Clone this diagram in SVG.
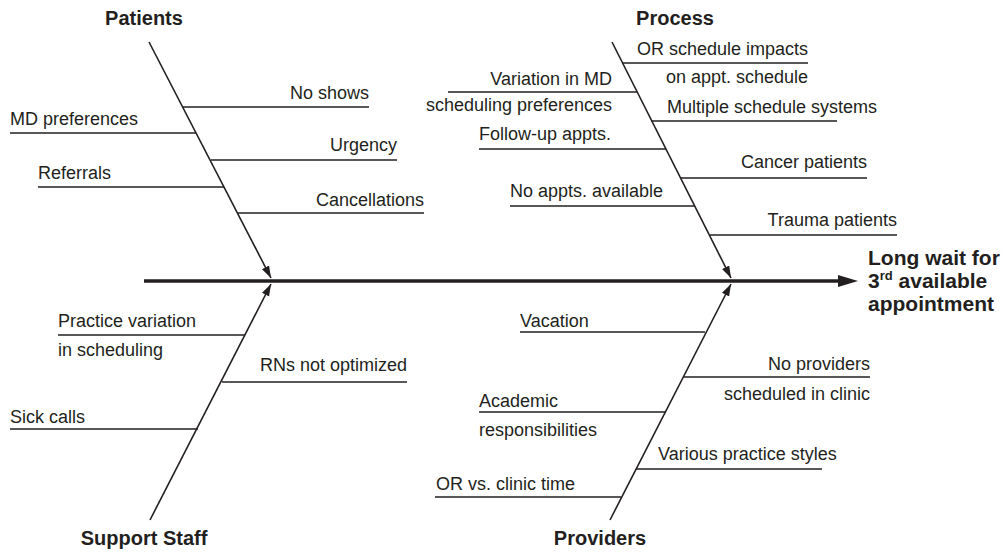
<svg xmlns="http://www.w3.org/2000/svg" width="1004" height="552" viewBox="0 0 1004 552">
<style>
  text { font-family: "Liberation Sans", Arial, sans-serif; fill: #231f20; }
  .c { font-size: 18px; }
  .h { font-size: 20px; font-weight: bold; }
  .e { font-size: 21px; font-weight: bold; }
  .r { text-anchor: end; }
  .m { text-anchor: middle; }
  .b { stroke: #231f20; stroke-width: 1.3; fill: none; }
  .bone { stroke: #231f20; stroke-width: 1.6; fill: none; marker-end: url(#ah); }
  .spine { stroke: #231f20; stroke-width: 3.6; fill: none; marker-end: url(#sh); }
</style>
<defs>
  <marker id="ah" markerUnits="userSpaceOnUse" markerWidth="13" markerHeight="9" refX="12" refY="4" orient="auto">
    <path d="M0,0 L12,4 L0,8 z" fill="#231f20"/>
  </marker>
  <marker id="sh" markerUnits="userSpaceOnUse" markerWidth="22" markerHeight="13" refX="2" refY="6" orient="auto">
    <path d="M0,0 L20,6 L0,12 z" fill="#231f20"/>
  </marker>
</defs>
<rect width="1004" height="552" fill="#ffffff"/>

<g id="connectors">
  <line class="spine" x1="144" y1="281" x2="840" y2="281"/>
  <line class="bone" x1="149" y1="42" x2="271" y2="278"/>
  <line class="bone" x1="612" y1="42" x2="731" y2="278"/>
  <line class="bone" x1="150" y1="520" x2="271" y2="284"/>
  <line class="bone" x1="610" y1="520" x2="731" y2="284"/>
</g>

<g id="effect">
  <text class="e" x="868" y="265">Long wait for</text>
  <text class="e" x="868" y="288">3<tspan font-size="13" dy="-8">rd</tspan><tspan dy="8"> available</tspan></text>
  <text class="e" x="868" y="311">appointment</text>
</g>

<g id="patients">
  <text class="h m" x="144" y="25">Patients</text>
  <g id="no-shows"><line class="b" x1="183" y1="107" x2="369" y2="107"/><text class="c r" x="369" y="99">No shows</text></g>
  <g id="md-preferences"><line class="b" x1="10" y1="133" x2="196" y2="133"/><text class="c" x="10" y="125">MD preferences</text></g>
  <g id="urgency"><line class="b" x1="211" y1="160" x2="397" y2="160"/><text class="c r" x="397" y="151">Urgency</text></g>
  <g id="referrals"><line class="b" x1="38" y1="187" x2="224" y2="187"/><text class="c" x="38" y="179">Referrals</text></g>
  <g id="cancellations"><line class="b" x1="238" y1="213" x2="424" y2="213"/><text class="c r" x="424" y="206">Cancellations</text></g>
</g>

<g id="process">
  <text class="h m" x="675" y="25">Process</text>
  <g id="or-schedule"><line class="b" x1="622" y1="63" x2="808" y2="63"/><text class="c r" x="808" y="55">OR schedule impacts</text><text class="c r" x="808" y="83">on appt. schedule</text></g>
  <g id="variation-md"><line class="b" x1="448" y1="92" x2="637" y2="92"/><text class="c r" x="612" y="85">Variation in MD</text><text class="c r" x="612" y="111">scheduling preferences</text></g>
  <g id="multiple-systems"><line class="b" x1="651" y1="121" x2="837" y2="121"/><text class="c r" x="877" y="113">Multiple schedule systems</text></g>
  <g id="follow-up"><line class="b" x1="479" y1="149" x2="666" y2="149"/><text class="c" x="479" y="140">Follow-up appts.</text></g>
  <g id="cancer"><line class="b" x1="681" y1="178" x2="867" y2="178"/><text class="c r" x="867" y="168">Cancer patients</text></g>
  <g id="no-appts"><line class="b" x1="510" y1="206" x2="695" y2="206"/><text class="c" x="510" y="197">No appts. available</text></g>
  <g id="trauma"><line class="b" x1="710" y1="235" x2="897" y2="235"/><text class="c r" x="897" y="226">Trauma patients</text></g>
</g>

<g id="support-staff">
  <text class="h m" x="144" y="545">Support Staff</text>
  <g id="practice-variation"><line class="b" x1="58" y1="335" x2="245" y2="335"/><text class="c" x="58" y="327">Practice variation</text><text class="c" x="58" y="356">in scheduling</text></g>
  <g id="rns"><line class="b" x1="222" y1="382" x2="407" y2="382"/><text class="c r" x="407" y="371">RNs not optimized</text></g>
  <g id="sick-calls"><line class="b" x1="10" y1="429" x2="198" y2="429"/><text class="c" x="10" y="423">Sick calls</text></g>
</g>

<g id="providers">
  <text class="h m" x="600" y="545">Providers</text>
  <g id="vacation"><line class="b" x1="520" y1="332" x2="705" y2="332"/><text class="c" x="520" y="327">Vacation</text></g>
  <g id="no-providers"><line class="b" x1="684" y1="377" x2="870" y2="377"/><text class="c r" x="870" y="370">No providers</text><text class="c r" x="870" y="400">scheduled in clinic</text></g>
  <g id="academic"><line class="b" x1="479" y1="412" x2="666" y2="412"/><text class="c" x="479" y="407">Academic</text><text class="c" x="479" y="436">responsibilities</text></g>
  <g id="practice-styles"><line class="b" x1="636" y1="469" x2="822" y2="469"/><text class="c" x="658" y="460">Various practice styles</text></g>
  <g id="or-clinic"><line class="b" x1="435" y1="497" x2="621" y2="497"/><text class="c" x="436" y="490">OR vs. clinic time</text></g>
</g>
</svg>
